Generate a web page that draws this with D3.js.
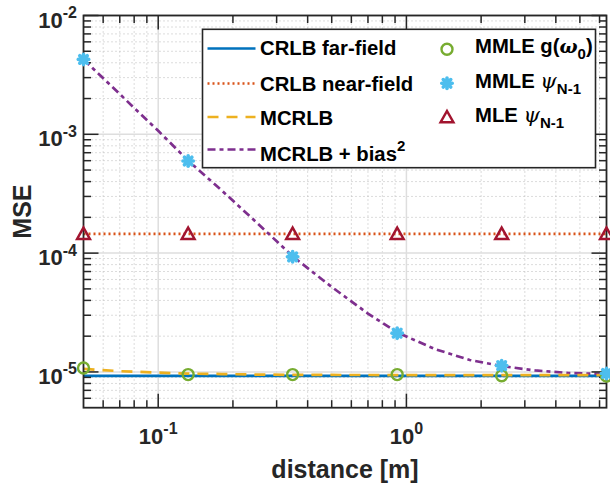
<!DOCTYPE html>
<html><head><meta charset="utf-8">
<script src="https://cdn.jsdelivr.net/npm/d3@7"></script>
<style>
body{margin:0;background:#fff}
svg{display:block;font-family:'Liberation Sans',Arial,Helvetica,sans-serif;font-weight:bold}
</style>
</head><body>
<svg id="c" width="610" height="489"></svg>
<script>
// ---------- data ----------
const markerX = [0.05, 0.132, 0.348, 0.918, 2.42, 6.4];
const lineX   = [0.05, 0.07, 0.1, 0.132, 0.18, 0.25, 0.348, 0.5, 0.7, 0.918, 1.3, 1.8, 2.42, 3.3, 4.5, 6.4];
const crlbFar  = [9.25e-6, 9.25e-6, 9.25e-6, 9.25e-6, 9.25e-6, 9.25e-6, 9.25e-6, 9.25e-6, 9.25e-6, 9.25e-6, 9.25e-6, 9.25e-6, 9.25e-6, 9.25e-6, 9.25e-6, 9.25e-6];
const crlbNear = [1.45e-4, 1.45e-4, 1.45e-4, 1.45e-4, 1.45e-4, 1.45e-4, 1.45e-4, 1.45e-4, 1.45e-4, 1.45e-4, 1.45e-4, 1.45e-4, 1.45e-4, 1.45e-4, 1.45e-4, 1.45e-4];
const mcrlb    = [1.06e-5, 1.015e-5, 9.86e-6, 9.68e-6, 9.6e-6, 9.5e-6, 9.45e-6, 9.43e-6, 9.42e-6, 9.41e-6, 9.4e-6, 9.4e-6, 9.4e-6, 9.4e-6, 9.4e-6, 9.4e-6];
const mcrlbBias= [4.27e-3, 2.18e-3, 1.07e-3, 6.0e-4, 3.38e-4, 1.80e-4, 9.4e-5, 5.19e-5, 3.1e-5, 2.15e-5, 1.56e-5, 1.26e-5, 1.12e-5, 1.03e-5, 9.8e-6, 9.6e-6];
const mmleG    = [1.08e-5, 9.5e-6, 9.5e-6, 9.5e-6, 9.3e-6, 9.25e-6];
const mmlePsi  = [4.27e-3, 5.96e-4, 9.3e-5, 2.12e-5, 1.13e-5, 9.7e-6];
const mlePsi   = [1.45e-4, 1.45e-4, 1.45e-4, 1.45e-4, 1.45e-4, 1.45e-4];
const xTicks = [0.1, 1];
const xTickLabels = [["10","-1"],["10","0"]];
const yTicks = [1e-5, 1e-4, 1e-3, 1e-2];
const yTickLabels = [["10","-5"],["10","-4"],["10","-3"],["10","-2"]];
const xDomain = [0.05, 6.4];
const yDomain = [5e-6, 1e-2];

// ---------- layout ----------
const L = 83.5, R = 606.5, T = 15.5, B = 407.7;
const axisCol = '#262626';
const svg = d3.select('#c');
const x = d3.scaleLog().domain(xDomain).range([L, R]);
const y = d3.scaleLog().domain(yDomain).range([B, T]);

function minors(dom){
  const out=[]; const lo=Math.floor(Math.log10(dom[0])), hi=Math.ceil(Math.log10(dom[1]));
  for(let k=lo;k<=hi;k++){ for(let m=2;m<=9;m++){ const v=m*Math.pow(10,k); if(v>=dom[0]*1.0001 && v<=dom[1]*0.9999) out.push(v);} }
  return out;
}
const xMinor = minors(xDomain), yMinor = minors(yDomain);

// grid
const g = svg.append('g');
g.selectAll('.xmg').data(xMinor).enter().append('line')
  .attr('x1',d=>x(d)).attr('x2',d=>x(d)).attr('y1',T).attr('y2',B)
  .attr('stroke','#b8b8b8').attr('stroke-width',1).attr('stroke-dasharray','1,3');
g.selectAll('.ymg').data(yMinor).enter().append('line')
  .attr('y1',d=>y(d)).attr('y2',d=>y(d)).attr('x1',L).attr('x2',R)
  .attr('stroke','#b8b8b8').attr('stroke-width',1).attr('stroke-dasharray','1,3');
g.selectAll('.xg').data(xTicks).enter().append('line')
  .attr('x1',d=>x(d)).attr('x2',d=>x(d)).attr('y1',T).attr('y2',B)
  .attr('stroke','#dedede').attr('stroke-width',1.5);
g.selectAll('.yg').data(yTicks).enter().append('line')
  .attr('y1',d=>y(d)).attr('y2',d=>y(d)).attr('x1',L).attr('x2',R)
  .attr('stroke','#dedede').attr('stroke-width',1.5);

svg.append('clipPath').attr('id','clip').append('rect').attr('x',L).attr('y',T).attr('width',R-L).attr('height',B-T);

const line = d3.line().x(d=>x(d[0])).y(d=>y(d[1]));
const series = [
  {vals:crlbFar,  color:'#0072BD', dash:null,        w:2.7},
  {vals:crlbNear, color:'#D95319', dash:'2,3',       w:2.7},
  {vals:mcrlbBias,color:'#7E2F8E', dash:'8,4,4,4',   w:2.7},
  {vals:mcrlb,    color:'#EDB120', dash:'11,8',      w:2.7},
];
const lg = svg.append('g').attr('clip-path','url(#clip)');
series.forEach(s=>{
  lg.append('path').datum(lineX.map((v,i)=>[v,s.vals[i]]))
    .attr('d',line).attr('fill','none').attr('stroke',s.color)
    .attr('stroke-width',s.w).attr('stroke-dasharray',s.dash);
});

// axes box + ticks
const ax = svg.append('g');
function ticks(vals, len){
  vals.forEach(v=>{
    const px=x(v);
    ax.append('line').attr('x1',px).attr('x2',px).attr('y1',B).attr('y2',B-len).attr('stroke',axisCol).attr('stroke-width',1.5);
    ax.append('line').attr('x1',px).attr('x2',px).attr('y1',T).attr('y2',T+len).attr('stroke',axisCol).attr('stroke-width',1.5);
  });
}
function yticks(vals,len){
  vals.forEach(v=>{
    const py=y(v);
    ax.append('line').attr('y1',py).attr('y2',py).attr('x1',L).attr('x2',L+len).attr('stroke',axisCol).attr('stroke-width',1.5);
    ax.append('line').attr('y1',py).attr('y2',py).attr('x1',R).attr('x2',R-len).attr('stroke',axisCol).attr('stroke-width',1.5);
  });
}
ticks(xMinor,7.5); ticks(xTicks,14);
yticks(yMinor,7.5); yticks(yTicks,15);
ax.append('rect').attr('x',L).attr('y',T).attr('width',R-L).attr('height',B-T)
  .attr('fill','none').attr('stroke',axisCol).attr('stroke-width',1.8);

// tick labels
xTicks.forEach((v,i)=>{
  const t=svg.append('text').attr('x',x(v)).attr('y',443.5).attr('text-anchor','middle')
    .attr('font-size',22).attr('fill',axisCol);
  t.append('tspan').text(xTickLabels[i][0]);
  t.append('tspan').attr('dy',-9.5).attr('font-size',16).text(xTickLabels[i][1]);
});
yTicks.forEach((v,i)=>{
  const t=svg.append('text').attr('x',77).attr('y',y(v)+12).attr('text-anchor','end')
    .attr('font-size',22).attr('fill',axisCol);
  t.append('tspan').text(yTickLabels[i][0]);
  t.append('tspan').attr('dy',-9.5).attr('font-size',16).text(yTickLabels[i][1]);
});

// axis titles
svg.append('text').attr('x',(L+R)/2).attr('y',478).attr('text-anchor','middle')
  .attr('font-size',25).attr('fill',axisCol).text('distance [m]');
svg.append('text').attr('transform',`translate(31,${(T+B)/2}) rotate(-90)`).attr('text-anchor','middle')
  .attr('font-size',25).attr('fill',axisCol).text('MSE');

// markers
const mk = svg.append('g');
function circle(sel,cx,cy){ sel.append('circle').attr('cx',cx).attr('cy',cy).attr('r',5.5).attr('fill','none').attr('stroke','#77AC30').attr('stroke-width',2.4); }
function star(sel,cx,cy){
  const a=5.2, d=a*0.72;
  [[0,-a,0,a],[-a,0,a,0],[-d,-d,d,d],[-d,d,d,-d]].forEach(p=>{
    sel.append('line').attr('x1',cx+p[0]).attr('y1',cy+p[1]).attr('x2',cx+p[2]).attr('y2',cy+p[3])
      .attr('stroke','#4DBEEE').attr('stroke-width',3.6).attr('stroke-linecap','round');
  });
  sel.append('circle').attr('cx',cx).attr('cy',cy).attr('r',4.2).attr('fill','#4DBEEE');
}
function tri(sel,cx,cy){
  const h=5.8;
  sel.append('path').attr('d',`M${cx},${cy-h-0.5}L${cx+h*1.1},${cy+h*0.85}L${cx-h*1.1},${cy+h*0.85}Z`)
    .attr('fill','none').attr('stroke','#A2142F').attr('stroke-width',2.5).attr('stroke-linejoin','miter');
}
markerX.forEach((v,i)=>{ circle(mk,x(v),y(mmleG[i])); });
markerX.forEach((v,i)=>{ star(mk,x(v),y(mmlePsi[i])); });
markerX.forEach((v,i)=>{ tri(mk,x(v),y(mlePsi[i])); });

// legend
const lgd = svg.append('g');
lgd.append('rect').attr('x',202.5).attr('y',29.3).attr('width',595.5-202.5).attr('height',167.7-29.3)
  .attr('fill','#fff').attr('stroke',axisCol).attr('stroke-width',1.6);
const legendLines = [
  {label:'CRLB far-field', s:series[0], cy:48.5, base:55},
  {label:'CRLB near-field', s:series[1], cy:83.5, base:91},
  {label:'MCRLB', s:series[3], cy:117, base:125},
  {label:'MCRLB + bias', sup:'2', s:series[2], cy:149.5, base:160.5},
];
legendLines.forEach(e=>{
  lgd.append('line').attr('x1',207.5).attr('x2',255.5).attr('y1',e.cy).attr('y2',e.cy)
    .attr('stroke',e.s.color).attr('stroke-width',e.s.w).attr('stroke-dasharray',e.s.dash);
  const t=lgd.append('text').attr('x',260).attr('y',e.base).attr('font-size',20.3).attr('fill','#000');
  t.append('tspan').text(e.label);
  if(e.sup) t.append('tspan').attr('dy',-10).attr('font-size',15).text(e.sup);
});
const greek = "'DejaVu Serif','Liberation Serif',serif";
circle(lgd,447,49.3);
{
  const t=lgd.append('text').attr('x',475).attr('y',53).attr('font-size',20.3).attr('fill','#000');
  t.append('tspan').text('MMLE g(');
  t.append('tspan').attr('font-family',greek).attr('font-style','italic').attr('font-weight','bold').attr('font-size',19).text('ω');
  t.append('tspan').attr('dy',6).attr('font-size',15).text('0');
  t.append('tspan').attr('dy',-6).text(')');
}
star(lgd,447,83.3);
{
  const t=lgd.append('text').attr('x',475).attr('y',87.5).attr('font-size',20.3).attr('fill','#000');
  t.append('tspan').text('MMLE ');
  t.append('tspan').attr('font-family',greek).attr('font-style','italic').attr('font-weight','normal').attr('font-size',21).text('ψ');
  t.append('tspan').attr('dy',6.5).attr('font-size',15).text('N-1');
}
tri(lgd,447,117.3);
{
  const t=lgd.append('text').attr('x',475).attr('y',121.7).attr('font-size',20.3).attr('fill','#000');
  t.append('tspan').text('MLE ');
  t.append('tspan').attr('font-family',greek).attr('font-style','italic').attr('font-weight','normal').attr('font-size',21).text('ψ');
  t.append('tspan').attr('dy',6.5).attr('font-size',15).text('N-1');
}
</script>
</body></html>
